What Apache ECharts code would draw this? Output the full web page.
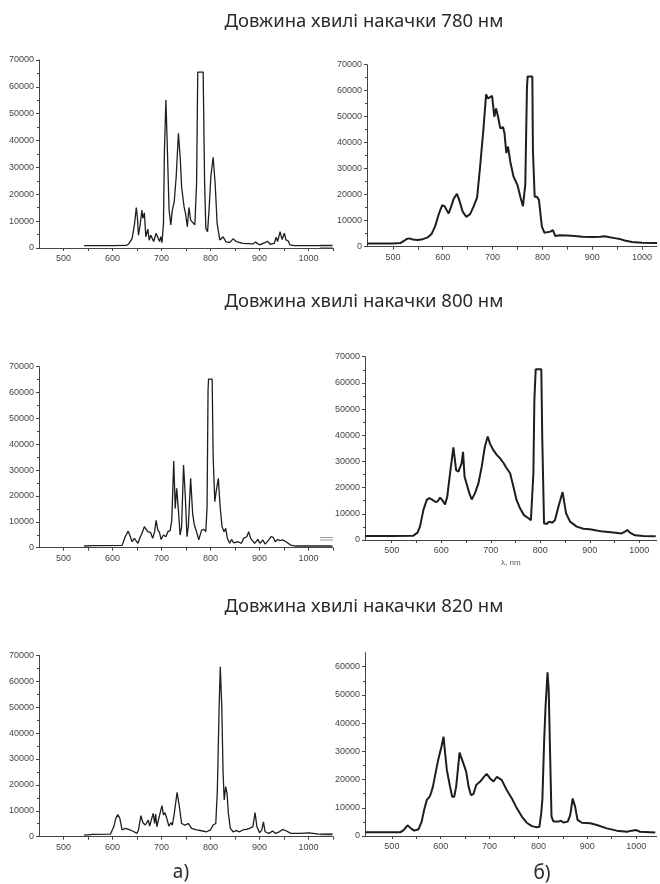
<!DOCTYPE html>
<html>
<head>
<meta charset="utf-8">
<script src="https://cdn.jsdelivr.net/npm/echarts@6.0.0/dist/echarts.min.js"></script>
<style>
html,body{margin:0;padding:0;background:#fff;}
#chart{width:660px;height:884px;}
</style>
</head>
<body>
<div id="chart"></div>
<script>
// ---- Titles / labels ----
const rowTitles = ['Довжина хвилі накачки 780 нм', 'Довжина хвилі накачки 800 нм', 'Довжина хвилі накачки 820 нм'];
const columnLabels = ['а)', 'б)'];
const xAxisName = 'λ, nm';

// ---- Tick values ----
const xLabelValues = [500, 600, 700, 800, 900, 1000];
const xTickValuesLeft = [500, 550, 600, 650, 700, 750, 800, 850, 900, 950, 1000, 1050];
const xTickValuesRight = [500, 550, 600, 650, 700, 750, 800, 850, 900, 950, 1000];
const yTicks70 = [0, 10000, 20000, 30000, 40000, 50000, 60000, 70000];
const yTicks60 = [0, 10000, 20000, 30000, 40000, 50000, 60000];

// ---- Spectra: [wavelength nm, intensity] ----
const pump780a = [[542,870],[560,900],[600,900],[628,950],[633,1500],[640,3500],[645,9000],[648.6,15100],[651,11000],[653,4800],[656,8000],[660,14100],[662,11000],[665,13100],[668,4200],[672,7000],[675,2900],[678,4800],[684,2400],[689,5500],[692.6,6100],[696,2400],[698.6,4200],[701,2000],[704,9200],[706,36500],[709,55100],[712,36500],[715.5,14100],[719,8600],[722,14100],[726,17200],[730,26600],[734.5,42700],[738.5,32800],[741,22800],[743,22200],[746,15400],[749,12900],[752.7,7900],[756,15100],[759.5,10400],[763.5,9800],[768,8600],[771.6,24000],[774,65500],[785,65500],[788,24000],[790.5,7300],[794,6100],[797,14100],[800.7,26600],[805.4,33800],[809.5,24000],[813.5,9200],[819,3000],[825.7,4200],[831,2400],[839,2000],[846,3400],[852.7,2400],[866,1700],[886.5,1500],[892,2200],[900,1200],[917,2500],[921.6,1400],[930,1700],[934,4000],[937,2400],[942,6100],[946,3200],[950.7,5500],[954,3000],[958.8,2600],[962,1200],[971,870],[1048.6,870]];

const pump780b = [[448,1200],[500,1200],[515,1400],[522,2200],[528,3000],[533,3200],[540,2800],[550,2600],[560,2900],[570,3600],[578,5000],[585,8000],[592,12500],[599,16000],[604,15500],[608,14000],[612,12800],[617,15500],[622,18500],[628.5,20300],[633,18000],[640,13500],[647,11500],[655,12500],[662,15500],[669,19000],[675,30800],[682,46000],[687,58600],[691,57000],[695,57700],[699,58000],[703.5,50000],[707,53200],[711,50000],[715.5,45500],[721,46000],[724,43600],[727.6,36000],[731,38500],[735.6,32700],[742,27000],[750,23700],[755.7,19200],[761,15600],[765.7,24000],[769,61000],[770.4,65500],[779.8,65500],[781,37000],[784.5,19200],[789,19200],[793,18000],[799,7700],[804,5400],[816,5800],[821,6400],[826,4100],[835,4400],[850,4300],[865,4100],[880,3800],[900,3700],[916,3800],[925,4000],[935,3600],[945,3300],[955,3000],[965,2400],[980,1800],[1000,1500],[1030,1450]];

const pump800a = [[542,650],[560,800],[619.6,900],[626,4250],[632,6400],[636.5,4250],[640,2300],[644.6,3600],[648,3600],[652,1700],[656.8,4250],[660,5500],[665,8100],[669,7100],[672,6200],[675.7,5500],[678,5800],[682,3600],[686,6200],[689,10600],[692.6,6800],[696,5800],[699,3200],[704,4900],[709,4250],[713,6200],[717.6,6600],[721,10700],[725,33500],[728,15200],[731,23000],[734.5,14600],[738,4900],[741,8100],[745,32000],[748.6,19700],[752,4250],[754.7,8100],[759.5,26800],[763.5,13300],[767,8800],[771.6,6200],[776,3000],[781.8,6800],[786.5,7100],[790.5,6200],[793,15900],[795,61000],[796,65200],[803.4,65200],[805.4,35200],[808.8,17800],[812,22300],[816,26800],[819.6,15900],[823.6,8100],[827.7,6200],[831,7500],[834.5,3600],[839,1700],[843,3200],[847,1900],[856,2300],[863,1700],[867.6,3600],[871.6,3000],[874,4250],[878,6200],[881.8,3600],[885,3200],[890,1700],[896.6,3200],[901,1700],[906.8,3000],[911.5,1400],[919,3000],[923.6,4250],[928,4000],[932,2300],[937,3200],[942,2700],[947,3000],[954,2300],[964,1000],[974,650],[1048.6,650]];

const pump800b = [[446,1500],[500,1500],[543.7,1650],[552,2800],[557,5100],[564,11500],[570.7,15300],[576,16000],[580.8,15500],[587.5,14600],[592,14600],[597.6,16200],[601.6,15300],[607.7,13600],[612,16500],[617.8,25500],[624.5,35400],[630,26700],[634.6,26100],[638,25700],[641,29300],[644,33700],[647,24200],[651,21600],[656.8,17800],[661.5,15500],[668,17800],[675,21600],[681.7,28000],[688,35600],[693.8,39500],[698.5,36700],[705,34400],[712,32500],[718.7,31200],[725.4,29500],[732,27400],[739,25500],[745.6,20400],[752,15300],[759,12100],[767,9500],[776,8300],[781,7600],[786,25500],[788,53500],[790.7,65200],[802,65200],[804,38200],[807.5,6400],[813,6100],[817.6,7000],[821,7600],[824,6600],[829.7,7600],[836.5,12700],[845,18300],[852,10200],[860,7000],[873.5,5100],[887,4300],[900,4100],[914,3600],[927,3200],[947.5,2900],[964,2500],[971,3200],[975.8,3800],[981,2800],[991,1800],[1008,1500],[1033,1450]];

const pump820a = [[542,640],[560,900],[596,1000],[602.7,3900],[606.8,7100],[610.8,8500],[614.9,7100],[619.6,2600],[626,3200],[633,2800],[641,2200],[650,1300],[653,2600],[658,8100],[662,5400],[667,4500],[670,4800],[673,6400],[675.7,4100],[679,4500],[683,9000],[686,5100],[688,8700],[690.5,3900],[694,4500],[697,9000],[701,12000],[704,8400],[706.8,9300],[710.8,7100],[715,4100],[719,5400],[722,4500],[725.7,8400],[731.8,17100],[736.5,11600],[741,5100],[748,4500],[754.7,5100],[761.5,3200],[771.6,2600],[781.8,2300],[792,1900],[800,2600],[805.4,4500],[810.8,5100],[814,18000],[817.6,50200],[820,65600],[823,50200],[825.7,24500],[828,14200],[831,19300],[833.8,16700],[836.5,9000],[840.5,3200],[846,1900],[852.7,2300],[859.5,1900],[866,2600],[873,2800],[879.7,3200],[886.5,3900],[891,9300],[894.6,3900],[900,1500],[904.7,2600],[908,5700],[911.5,1900],[919,1300],[927,2200],[932,1300],[940.5,1900],[947,2800],[954,2300],[964,1300],[981,1300],[1001,1500],[1021.6,1000],[1048.6,900]];

const pump820b = [[445,1300],[500,1300],[517,1300],[524,2100],[532,3800],[539,2700],[545.7,1900],[554.6,2400],[561,5100],[566,9200],[571.6,12800],[577,13900],[580.5,15400],[584,17500],[587,16900],[592,24600],[595.5,27500],[599,28100],[601.6,31700],[605.7,35200],[609,29300],[612.5,23400],[615,22800],[619,17500],[623.5,13900],[627.6,13900],[631.6,17500],[635,23400],[638.5,29600],[641,28300],[645,28700],[648.7,24600],[652,22800],[657,17500],[661.7,14500],[667,14900],[672.6,18100],[680.8,19300],[687.6,20800],[694,22000],[701,20400],[708,19300],[715,21000],[718,20700],[725,19800],[728.5,19300],[735,16300],[745.6,13300],[755.8,9800],[766,6900],[776,4700],[786.5,3500],[796.7,3100],[802,3300],[805.6,8000],[808,12800],[811.7,34000],[814.5,45800],[818.6,58000],[821,51700],[824,28100],[826.7,6900],[830.8,5100],[841,5100],[846,5400],[851,4800],[860,5100],[865,7400],[870,13300],[875,10400],[880,5700],[888.8,4700],[906,4500],[919.5,3900],[940,2700],[960,1900],[981,1500],[991,1900],[1000,2100],[1008,1500],[1039,1200]];

const panels = [
  {data: pump780a, grid: {left: 39, top: 60, width: 294, height: 188}, x: [450, 1050], y: [0, 70000], yt: yTicks70, xt: xTickValuesLeft, lw: 1.3},
  {data: pump780b, grid: {left: 367, top: 64.7, width: 290, height: 182}, x: [448, 1030], y: [0, 70000], yt: yTicks70, xt: xTickValuesRight, lw: 2},
  {data: pump800a, grid: {left: 39, top: 366.7, width: 294, height: 181}, x: [450, 1050], y: [0, 70000], yt: yTicks70, xt: xTickValuesLeft, lw: 1.3},
  {data: pump800b, grid: {left: 365, top: 356.7, width: 291.7, height: 183.3}, x: [446, 1035], y: [0, 70000], yt: yTicks70, xt: xTickValuesRight, lw: 2},
  {data: pump820a, grid: {left: 39, top: 655.3, width: 294, height: 181.4}, x: [450, 1050], y: [0, 70000], yt: yTicks70, xt: xTickValuesLeft, lw: 1.3},
  {data: pump820b, grid: {left: 365, top: 652.6, width: 291.7, height: 183.4}, x: [445, 1042], y: [0, 65000], yt: yTicks60, xt: xTickValuesRight, lw: 2}
];

const axisColor = '#444';
const labelStyle = {fontSize: 9, color: '#444', fontFamily: '"Liberation Sans", Arial, sans-serif', formatter: v => String(Math.round(v))};
const titleFont = '18.5px "Noto Sans", sans-serif';

const option = {
  animation: false,
  backgroundColor: '#fff',
  grid: panels.map(p => Object.assign({containLabel: false}, p.grid)),
  xAxis: panels.map((p, i) => ({
    type: 'value', gridIndex: i, min: p.x[0], max: p.x[1],
    name: i === 3 ? xAxisName : '',
    nameLocation: 'middle', nameGap: 19,
    nameTextStyle: {fontSize: 8, color: '#555', fontFamily: '"Liberation Sans", Arial, sans-serif'},
    axisLine: {show: true, onZero: false, lineStyle: {color: axisColor, width: 1}},
    axisTick: {show: true, length: 3, customValues: p.xt, lineStyle: {color: axisColor}},
    axisLabel: Object.assign({margin: 6, customValues: xLabelValues}, labelStyle),
    splitLine: {show: false}
  })),
  yAxis: panels.map((p, i) => ({
    type: 'value', gridIndex: i, min: p.y[0], max: p.y[1],
    axisLine: {show: true, lineStyle: {color: axisColor, width: 1}},
    axisTick: {show: true, length: 3, customValues: p.yt, lineStyle: {color: axisColor}},
    minorTick: {show: true, splitNumber: 2, length: 2, lineStyle: {color: axisColor}},
    axisLabel: Object.assign({margin: 5, customValues: p.yt}, labelStyle),
    splitLine: {show: false}
  })),
  series: panels.map((p, i) => ({
    type: 'line', xAxisIndex: i, yAxisIndex: i, data: p.data,
    showSymbol: false, symbol: 'none', smooth: false,
    lineStyle: {color: '#1e1e1e', width: p.lw}
  })),
  graphic: [
    {type: 'text', x: 364, y: 22, style: {text: rowTitles[0], font: titleFont, fill: '#2a2a2a', align: 'center', verticalAlign: 'middle'}},
    {type: 'text', x: 364, y: 302, style: {text: rowTitles[1], font: titleFont, fill: '#2a2a2a', align: 'center', verticalAlign: 'middle'}},
    {type: 'text', x: 364, y: 607, style: {text: rowTitles[2], font: titleFont, fill: '#2a2a2a', align: 'center', verticalAlign: 'middle'}},
    {type: 'text', x: 181, y: 873, style: {text: columnLabels[0], font: '19px "Noto Sans", sans-serif', fill: '#2a2a2a', align: 'center', verticalAlign: 'middle'}},
    {type: 'text', x: 542, y: 874, style: {text: columnLabels[1], font: '19px "Noto Sans", sans-serif', fill: '#2a2a2a', align: 'center', verticalAlign: 'middle'}},
    // cropping remnants at left edge of right panels
    {type: 'line', shape: {x1: 320, y1: 245, x2: 333, y2: 245}, style: {stroke: '#999', lineWidth: 1}},
    {type: 'line', shape: {x1: 320, y1: 247.5, x2: 333, y2: 247.5}, style: {stroke: '#999', lineWidth: 1}},
    {type: 'line', shape: {x1: 320, y1: 537.5, x2: 333, y2: 537.5}, style: {stroke: '#999', lineWidth: 1}},
    {type: 'line', shape: {x1: 320, y1: 540, x2: 333, y2: 540}, style: {stroke: '#999', lineWidth: 1}},
    {type: 'line', shape: {x1: 320, y1: 833.5, x2: 333, y2: 833.5}, style: {stroke: '#999', lineWidth: 1}},
    {type: 'line', shape: {x1: 320, y1: 836, x2: 333, y2: 836}, style: {stroke: '#999', lineWidth: 1}}
  ]
};

const chart = echarts.init(document.getElementById('chart'), null, {renderer: 'canvas'});
chart.setOption(option);
</script>
</body>
</html>
